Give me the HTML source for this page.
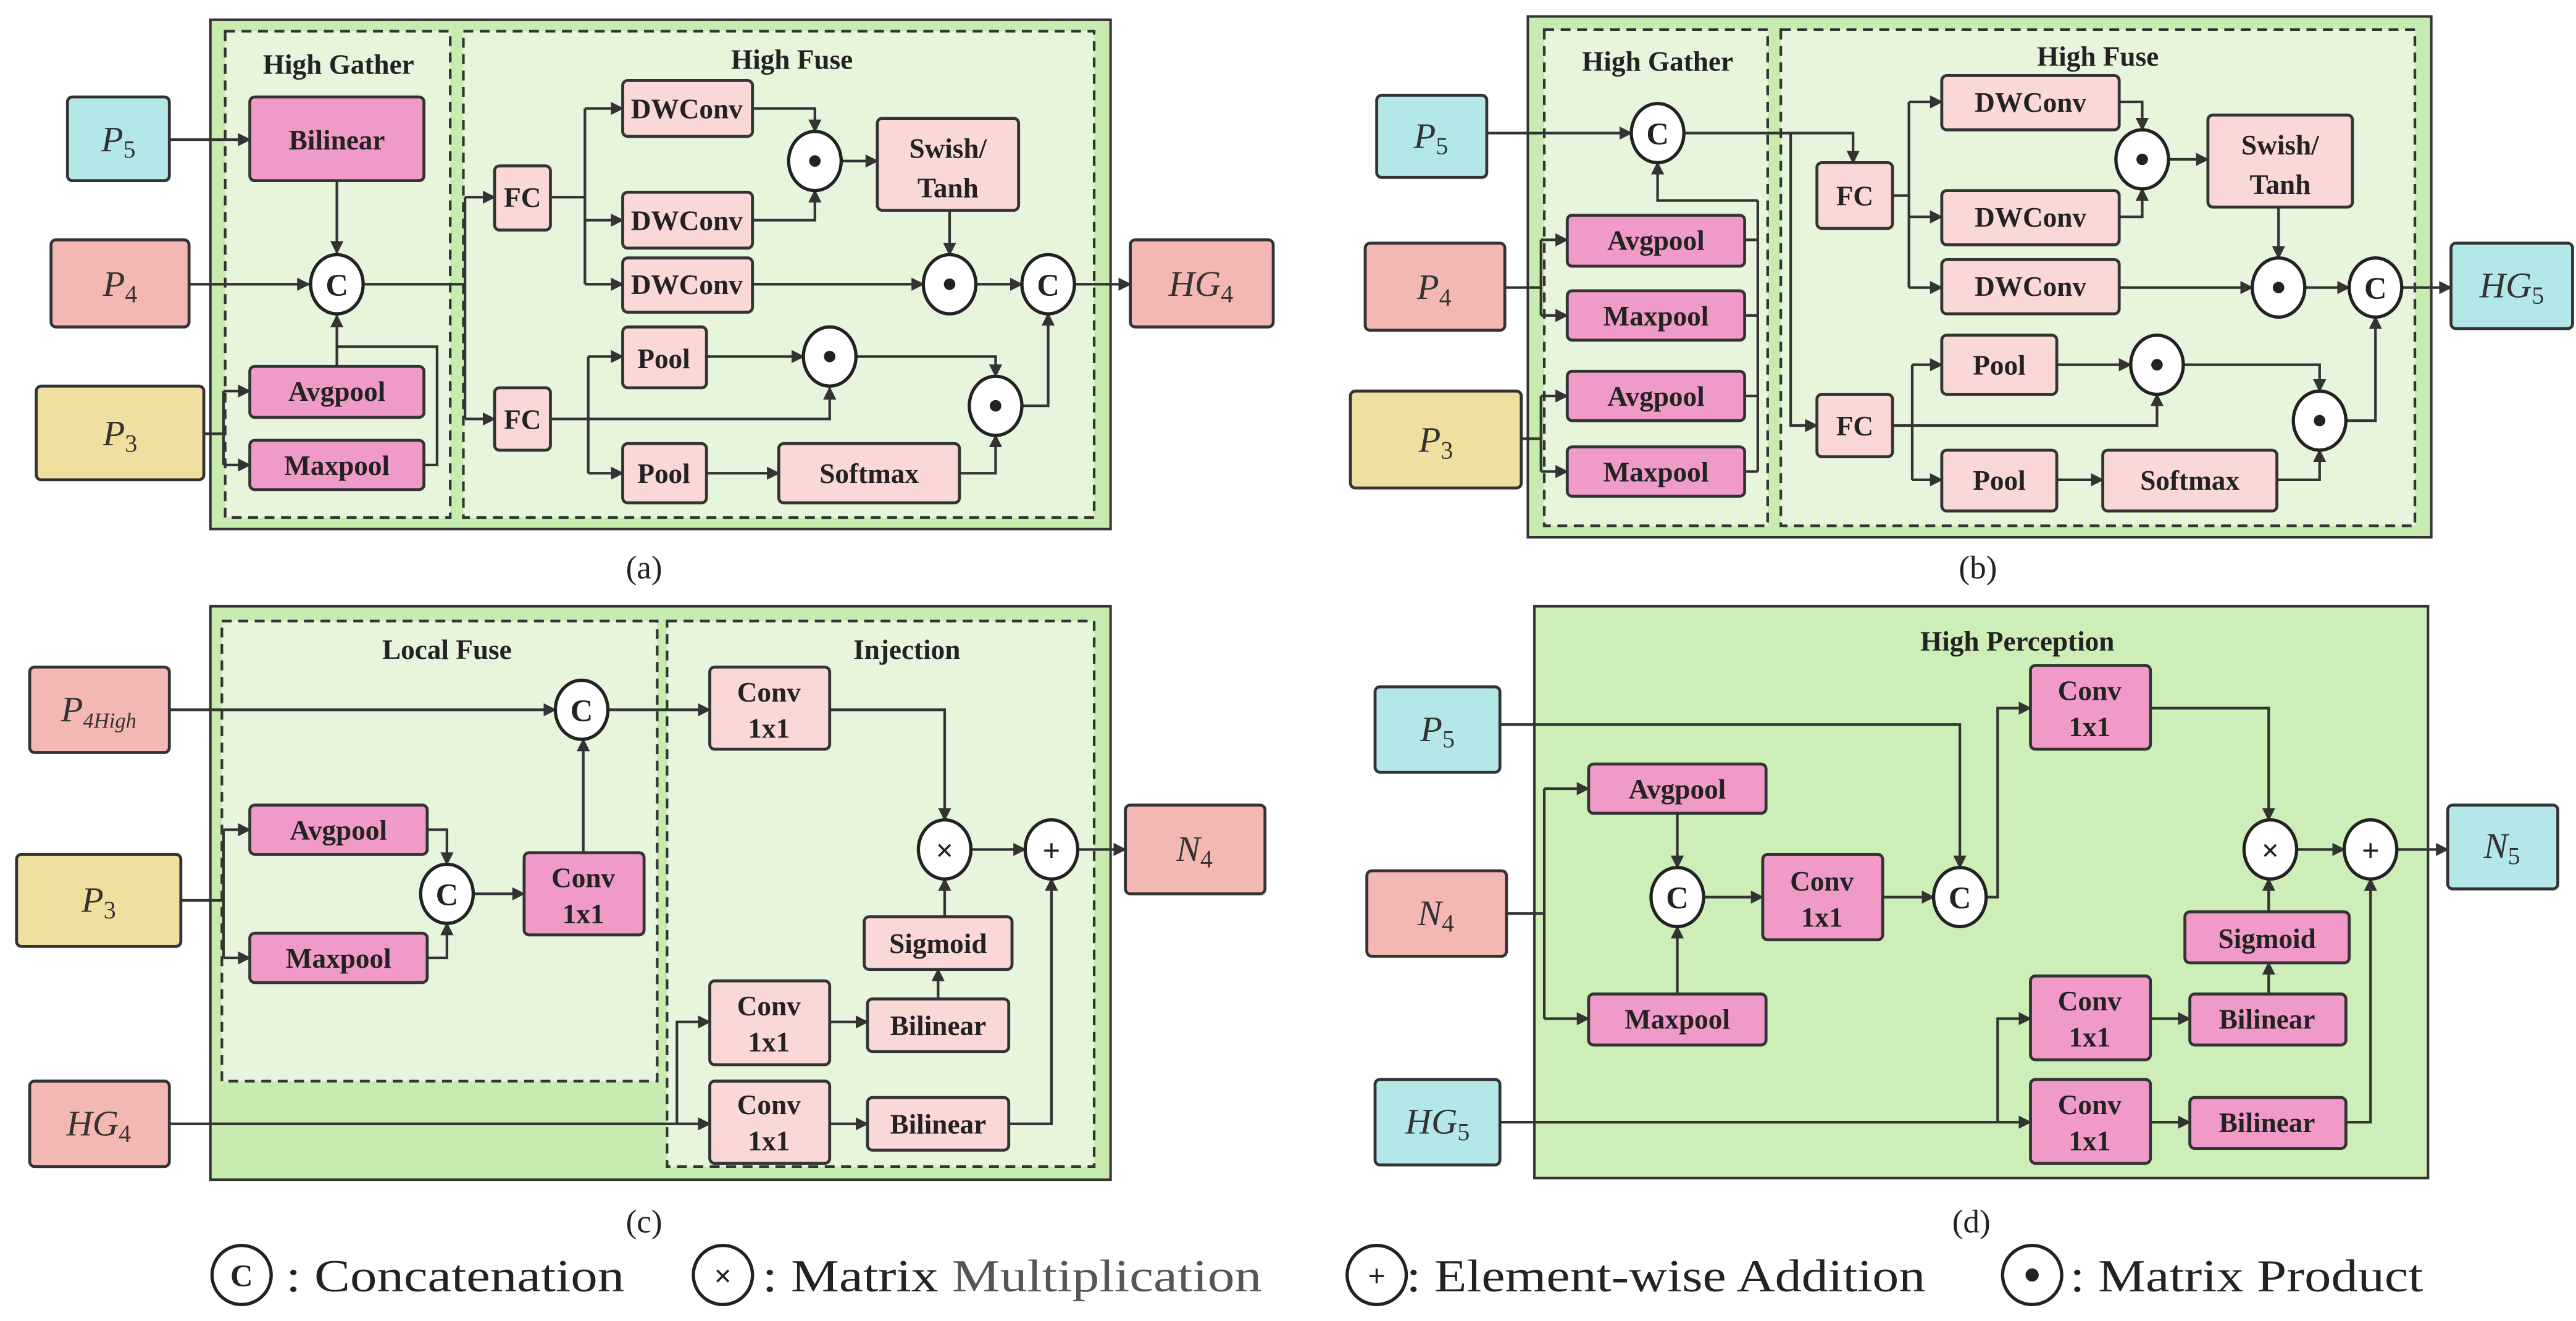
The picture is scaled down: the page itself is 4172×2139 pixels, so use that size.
<!DOCTYPE html>
<html><head><meta charset="utf-8"><style>
html,body{margin:0;padding:0;background:#fff;}
svg{display:block;}
text{font-family:"Liberation Serif",serif;}
.b{font-weight:bold;font-size:17px;fill:#222;}
.t{font-weight:bold;font-size:17px;fill:#222;}
.v{font-style:italic;font-size:22px;fill:#333;}
.l{stroke:#333;stroke-width:1.6;fill:none;}
.a{stroke:#333;stroke-width:1.6;fill:none;marker-end:url(#ar);}
.c{fill:#fff;stroke:#222;stroke-width:2;}
.cs{font-family:"Liberation Sans",sans-serif;font-weight:bold;font-size:19px;fill:#222;}
</style></head><body>
<svg width="4172" height="2139" viewBox="0 0 1568 804" xmlns="http://www.w3.org/2000/svg">
<defs>
<marker id="ar" viewBox="0 0 10 10" refX="9" refY="5" markerWidth="5" markerHeight="5" orient="auto"><path d="M0,0L10,5L0,10z" fill="#333"/></marker>
</defs>
<g stroke="#333" stroke-width="1.5">
<rect x="128" y="12" width="548" height="310" fill="#c8ecb0"/>
<rect x="930" y="10" width="550" height="317" fill="#c8ecb0"/>
<rect x="128" y="369" width="548" height="349" fill="#c8ecb0"/>
<rect x="934" y="369" width="544" height="348" fill="#cdeeb6"/>
</g>
<g stroke="#333" stroke-width="1.6" stroke-dasharray="6,4" fill="#e6f5dc">
<rect x="137" y="19" width="137" height="296"/>
<rect x="282" y="19" width="384" height="296"/>
<rect x="940" y="18" width="136" height="302"/>
<rect x="1084" y="18" width="386" height="302"/>
<rect x="135" y="378" width="265" height="280"/>
<rect x="406" y="378" width="260" height="332"/>
</g>
<text class="t" x="206" y="45" text-anchor="middle">High Gather</text>
<text class="t" x="482" y="42" text-anchor="middle">High Fuse</text>
<text class="t" x="1009" y="43" text-anchor="middle">High Gather</text>
<text class="t" x="1277" y="40" text-anchor="middle">High Fuse</text>
<text class="t" x="272" y="401" text-anchor="middle">Local Fuse</text>
<text class="t" x="552" y="401" text-anchor="middle">Injection</text>
<text class="t" x="1228" y="396" text-anchor="middle">High Perception</text>

<!-- connectors (a) -->
<path class="a" d="M103,85H152"/>
<path class="a" d="M205,110V154"/>
<path class="a" d="M115,173H188"/>
<path class="l" d="M124,264H136M136,238V283"/>
<path class="a" d="M136,238H152"/><path class="a" d="M136,283H152"/>
<path class="a" d="M205,223V192"/>
<path class="l" d="M258,283H266V211H205"/>
<path class="l" d="M222,173H283M283,120V255"/>
<path class="a" d="M283,120H301"/><path class="a" d="M283,255H301"/>
<path class="l" d="M335,120H356M356,66V173"/>
<path class="a" d="M356,66H379"/><path class="a" d="M356,134H379"/><path class="a" d="M356,173H379"/>
<path class="a" d="M458,66H496V80"/><path class="a" d="M458,134H496V116"/>
<path class="a" d="M512,98H534"/>
<path class="a" d="M578,128V155"/>
<path class="a" d="M458,173H562"/>
<path class="a" d="M594,173H622"/>
<path class="a" d="M654,173H688"/>
<path class="l" d="M335,255H358M358,217V288"/>
<path class="a" d="M358,217H379"/><path class="a" d="M358,288H379"/>
<path class="a" d="M358,255H505V236"/>
<path class="a" d="M430,217H489"/>
<path class="a" d="M521,217H606V229"/>
<path class="a" d="M430,288H474"/>
<path class="a" d="M584,288H606V265"/>
<path class="a" d="M622,247H638V191"/>

<!-- connectors (b) -->
<path class="a" d="M905,81H993"/>
<path class="a" d="M1025,81H1128V99"/>
<path class="l" d="M916,175H938M938,146V192"/>
<path class="a" d="M938,146H954"/><path class="a" d="M938,192H954"/>
<path class="l" d="M926,267H938M938,241V287"/>
<path class="a" d="M938,241H954"/><path class="a" d="M938,287H954"/>
<path class="l" d="M1062,146H1070M1062,192H1070M1062,241H1070M1062,287H1070M1070,122V287"/>
<path class="a" d="M1070,122H1009V99"/>
<path class="a" d="M1090,81V259H1106"/>
<path class="l" d="M1152,119H1162M1162,62V175"/>
<path class="a" d="M1162,62H1182"/><path class="a" d="M1162,132H1182"/><path class="a" d="M1162,175H1182"/>
<path class="a" d="M1290,62H1304V79"/><path class="a" d="M1290,132H1304V115"/>
<path class="a" d="M1320,97H1344"/>
<path class="a" d="M1387,126V157"/>
<path class="a" d="M1290,175H1371"/>
<path class="a" d="M1403,175H1430"/>
<path class="a" d="M1462,175H1492"/>
<path class="l" d="M1152,259H1164M1164,222V292"/>
<path class="a" d="M1164,222H1182"/><path class="a" d="M1164,292H1182"/>
<path class="a" d="M1164,259H1313V240"/>
<path class="a" d="M1252,222H1297"/>
<path class="a" d="M1329,222H1412V238"/>
<path class="a" d="M1252,292H1280"/>
<path class="a" d="M1386,292H1412V274"/>
<path class="a" d="M1428,256H1446V193"/>

<!-- connectors (c) -->
<path class="a" d="M103,432H338"/>
<path class="a" d="M370,432H432"/>
<path class="a" d="M505,432H575V499"/>
<path class="l" d="M110,548H136M136,505V583"/>
<path class="a" d="M136,505H152"/><path class="a" d="M136,583H152"/>
<path class="a" d="M260,505H272V526"/><path class="a" d="M260,583H272V562"/>
<path class="a" d="M288,544H319"/>
<path class="a" d="M355,519V450"/>
<path class="a" d="M103,684H432"/>
<path class="a" d="M412,684V622H432"/>
<path class="a" d="M505,622H528"/><path class="a" d="M505,684H528"/>
<path class="a" d="M571,608V590"/>
<path class="a" d="M575,558V535"/>
<path class="a" d="M614,684H640V535"/>
<path class="a" d="M591,517H624"/>
<path class="a" d="M656,517H685"/>

<!-- connectors (d) -->
<path class="a" d="M913,441H1193V528"/>
<path class="l" d="M917,556H940M940,480V620"/>
<path class="a" d="M940,480H967"/><path class="a" d="M940,620H967"/>
<path class="a" d="M1021,495V528"/>
<path class="a" d="M1021,605V564"/>
<path class="a" d="M1037,546H1073"/>
<path class="a" d="M1146,546H1177"/>
<path class="a" d="M1209,546H1216V431H1236"/>
<path class="a" d="M1309,431H1381V499"/>
<path class="a" d="M1398,517H1427"/>
<path class="a" d="M1459,517H1490"/>
<path class="a" d="M913,683H1236"/>
<path class="a" d="M1216,683V620H1236"/>
<path class="a" d="M1309,620H1333"/><path class="a" d="M1309,683H1333"/>
<path class="a" d="M1381,605V586"/>
<path class="a" d="M1381,555V535"/>
<path class="a" d="M1428,683H1443V535"/>

<!-- boxes -->
<g stroke="#333" stroke-width="1.8">
<rect x="41" y="59" width="62" height="51" rx="3" fill="#b4e8e8"/>
<rect x="31" y="146" width="84" height="53" rx="3" fill="#f4b8b4"/>
<rect x="22" y="235" width="102" height="57" rx="3" fill="#f0e0a0"/>
<rect x="688" y="146" width="87" height="53" rx="3" fill="#f4b8b4"/>
<rect x="838" y="58" width="67" height="50" rx="3" fill="#b4e8e8"/>
<rect x="831" y="148" width="85" height="53" rx="3" fill="#f4b8b4"/>
<rect x="822" y="238" width="104" height="59" rx="3" fill="#f0e0a0"/>
<rect x="1492" y="148" width="74" height="52" rx="3" fill="#b4e8e8"/>
<rect x="18" y="406" width="85" height="52" rx="3" fill="#f4b8b4"/>
<rect x="10" y="520" width="100" height="56" rx="3" fill="#f0e0a0"/>
<rect x="18" y="658" width="85" height="52" rx="3" fill="#f4b8b4"/>
<rect x="685" y="490" width="85" height="54" rx="3" fill="#f4b8b4"/>
<rect x="837" y="418" width="76" height="52" rx="3" fill="#b4e8e8"/>
<rect x="832" y="530" width="85" height="52" rx="3" fill="#f4b8b4"/>
<rect x="837" y="657" width="76" height="52" rx="3" fill="#b4e8e8"/>
<rect x="1490" y="490" width="67" height="51" rx="3" fill="#b4e8e8"/>
</g>
<g stroke="#333" stroke-width="1.8" fill="#f09ac8">
<rect x="152" y="59" width="106" height="51" rx="3"/>
<rect x="152" y="223" width="106" height="31" rx="3"/>
<rect x="152" y="268" width="106" height="30" rx="3"/>
<rect x="954" y="131" width="108" height="31" rx="3"/>
<rect x="954" y="177" width="108" height="30" rx="3"/>
<rect x="954" y="226" width="108" height="30" rx="3"/>
<rect x="954" y="272" width="108" height="30" rx="3"/>
<rect x="152" y="490" width="108" height="30" rx="3"/>
<rect x="152" y="568" width="108" height="30" rx="3"/>
<rect x="319" y="519" width="73" height="50" rx="3"/>
<rect x="967" y="465" width="108" height="30" rx="3"/>
<rect x="967" y="605" width="108" height="31" rx="3"/>
<rect x="1073" y="520" width="73" height="52" rx="3"/>
<rect x="1236" y="405" width="73" height="51" rx="3"/>
<rect x="1330" y="555" width="100" height="31" rx="3"/>
<rect x="1236" y="594" width="73" height="51" rx="3"/>
<rect x="1333" y="605" width="95" height="31" rx="3"/>
<rect x="1236" y="657" width="73" height="51" rx="3"/>
<rect x="1333" y="668" width="95" height="31" rx="3"/>
</g>
<g stroke="#333" stroke-width="1.8" fill="#f9d8d6">
<rect x="301" y="101" width="34" height="39" rx="3"/>
<rect x="301" y="236" width="34" height="38" rx="3"/>
<rect x="379" y="49" width="79" height="34" rx="3"/>
<rect x="379" y="117" width="79" height="34" rx="3"/>
<rect x="379" y="157" width="79" height="33" rx="3"/>
<rect x="534" y="72" width="86" height="56" rx="3"/>
<rect x="379" y="199" width="51" height="37" rx="3"/>
<rect x="379" y="270" width="51" height="36" rx="3"/>
<rect x="474" y="270" width="110" height="36" rx="3"/>
<rect x="1106" y="99" width="46" height="40" rx="3"/>
<rect x="1106" y="240" width="46" height="38" rx="3"/>
<rect x="1182" y="46" width="108" height="33" rx="3"/>
<rect x="1182" y="116" width="108" height="33" rx="3"/>
<rect x="1182" y="158" width="108" height="33" rx="3"/>
<rect x="1344" y="70" width="88" height="56" rx="3"/>
<rect x="1182" y="204" width="70" height="36" rx="3"/>
<rect x="1182" y="274" width="70" height="37" rx="3"/>
<rect x="1280" y="274" width="106" height="37" rx="3"/>
<rect x="432" y="406" width="73" height="50" rx="3"/>
<rect x="526" y="558" width="90" height="32" rx="3"/>
<rect x="432" y="597" width="73" height="51" rx="3"/>
<rect x="528" y="608" width="86" height="32" rx="3"/>
<rect x="432" y="658" width="73" height="50" rx="3"/>
<rect x="528" y="668" width="86" height="32" rx="3"/>
</g>

<!-- circles -->
<g>
<ellipse class="c" cx="205" cy="173" rx="16" ry="18"/>
<ellipse class="c" cx="496" cy="98" rx="16" ry="18"/>
<ellipse class="c" cx="578" cy="173" rx="16" ry="18"/>
<ellipse class="c" cx="638" cy="173" rx="16" ry="18"/>
<ellipse class="c" cx="505" cy="217" rx="16" ry="18"/>
<ellipse class="c" cx="606" cy="247" rx="16" ry="18"/>
<ellipse class="c" cx="1009" cy="81" rx="16" ry="18"/>
<ellipse class="c" cx="1304" cy="97" rx="16" ry="18"/>
<ellipse class="c" cx="1387" cy="175" rx="16" ry="18"/>
<ellipse class="c" cx="1446" cy="175" rx="16" ry="18"/>
<ellipse class="c" cx="1313" cy="222" rx="16" ry="18"/>
<ellipse class="c" cx="1412" cy="256" rx="16" ry="18"/>
<ellipse class="c" cx="354" cy="432" rx="16" ry="18"/>
<ellipse class="c" cx="272" cy="544" rx="16" ry="18"/>
<ellipse class="c" cx="575" cy="517" rx="16" ry="18"/>
<ellipse class="c" cx="640" cy="517" rx="16" ry="18"/>
<ellipse class="c" cx="1021" cy="546" rx="16" ry="18"/>
<ellipse class="c" cx="1193" cy="546" rx="16" ry="18"/>
<ellipse class="c" cx="1382" cy="517" rx="16" ry="18"/>
<ellipse class="c" cx="1443" cy="517" rx="16" ry="18"/>
<ellipse class="c" cx="147" cy="776" rx="18" ry="18"/>
<ellipse class="c" cx="440" cy="776" rx="18" ry="18"/>
<ellipse class="c" cx="838" cy="776" rx="18" ry="18"/>
<ellipse class="c" cx="1237" cy="776" rx="18" ry="18"/>
</g>
<g class="cs" text-anchor="middle">
<text x="205" y="180">C</text><text x="638" y="180">C</text>
<text x="1009" y="88">C</text><text x="1446" y="182">C</text>
<text x="354" y="439">C</text><text x="272" y="551">C</text>
<text x="1021" y="553">C</text><text x="1193" y="553">C</text>
<text x="575" y="524">×</text><text x="640" y="524">+</text>
<text x="1382" y="524">×</text><text x="1443" y="524">+</text>
<text x="147" y="783">C</text><text x="440" y="783">×</text><text x="838" y="783">+</text>
</g>
<g fill="#222">
<circle cx="496" cy="98" r="3.5"/><circle cx="578" cy="173" r="3.5"/>
<circle cx="505" cy="217" r="3.5"/><circle cx="606" cy="247" r="3.5"/>
<circle cx="1304" cy="97" r="3.5"/><circle cx="1387" cy="175" r="3.5"/>
<circle cx="1313" cy="222" r="3.5"/><circle cx="1412" cy="256" r="3.5"/>
<circle cx="1237" cy="776" r="4"/>
</g>

<!-- box labels -->
<g class="b" text-anchor="middle">
<text x="205" y="91">Bilinear</text>
<text x="205" y="244">Avgpool</text>
<text x="205" y="289">Maxpool</text>
<text x="318" y="126">FC</text>
<text x="318" y="261">FC</text>
<text x="418" y="72">DWConv</text>
<text x="418" y="140">DWConv</text>
<text x="418" y="179">DWConv</text>
<text x="577" y="96">Swish/</text>
<text x="577" y="120">Tanh</text>
<text x="404" y="224">Pool</text>
<text x="404" y="294">Pool</text>
<text x="529" y="294">Softmax</text>

<text x="1008" y="152">Avgpool</text>
<text x="1008" y="198">Maxpool</text>
<text x="1008" y="247">Avgpool</text>
<text x="1008" y="293">Maxpool</text>
<text x="1129" y="125">FC</text>
<text x="1129" y="265">FC</text>
<text x="1236" y="68">DWConv</text>
<text x="1236" y="138">DWConv</text>
<text x="1236" y="180">DWConv</text>
<text x="1388" y="94">Swish/</text>
<text x="1388" y="118">Tanh</text>
<text x="1217" y="228">Pool</text>
<text x="1217" y="298">Pool</text>
<text x="1333" y="298">Softmax</text>

<text x="468" y="427">Conv</text><text x="468" y="449">1x1</text>
<text x="206" y="511">Avgpool</text>
<text x="206" y="589">Maxpool</text>
<text x="355" y="540">Conv</text><text x="355" y="562">1x1</text>
<text x="571" y="580">Sigmoid</text>
<text x="468" y="618">Conv</text><text x="468" y="640">1x1</text>
<text x="571" y="630">Bilinear</text>
<text x="468" y="678">Conv</text><text x="468" y="700">1x1</text>
<text x="571" y="690">Bilinear</text>

<text x="1021" y="486">Avgpool</text>
<text x="1021" y="626">Maxpool</text>
<text x="1109" y="542">Conv</text><text x="1109" y="564">1x1</text>
<text x="1272" y="426">Conv</text><text x="1272" y="448">1x1</text>
<text x="1380" y="577">Sigmoid</text>
<text x="1272" y="615">Conv</text><text x="1272" y="637">1x1</text>
<text x="1380" y="626">Bilinear</text>
<text x="1272" y="678">Conv</text><text x="1272" y="700">1x1</text>
<text x="1380" y="689">Bilinear</text>
</g>

<!-- variable labels -->
<g class="v" text-anchor="middle">
<text x="72" y="92">P<tspan font-size="15" font-style="normal" dy="4">5</tspan></text>
<text x="73" y="180">P<tspan font-size="15" font-style="normal" dy="4">4</tspan></text>
<text x="73" y="271">P<tspan font-size="15" font-style="normal" dy="4">3</tspan></text>
<text x="731" y="180">HG<tspan font-size="15" font-style="normal" dy="4">4</tspan></text>
<text x="871" y="90">P<tspan font-size="15" font-style="normal" dy="4">5</tspan></text>
<text x="873" y="182">P<tspan font-size="15" font-style="normal" dy="4">4</tspan></text>
<text x="874" y="275">P<tspan font-size="15" font-style="normal" dy="4">3</tspan></text>
<text x="1529" y="181">HG<tspan font-size="15" font-style="normal" dy="4">5</tspan></text>
<text x="60" y="439">P<tspan font-size="13" dy="4">4High</tspan></text>
<text x="60" y="555">P<tspan font-size="15" font-style="normal" dy="4">3</tspan></text>
<text x="60" y="691">HG<tspan font-size="15" font-style="normal" dy="4">4</tspan></text>
<text x="727" y="524">N<tspan font-size="15" font-style="normal" dy="4">4</tspan></text>
<text x="875" y="451">P<tspan font-size="15" font-style="normal" dy="4">5</tspan></text>
<text x="874" y="563">N<tspan font-size="15" font-style="normal" dy="4">4</tspan></text>
<text x="875" y="690">HG<tspan font-size="15" font-style="normal" dy="4">5</tspan></text>
<text x="1523" y="522">N<tspan font-size="15" font-style="normal" dy="4">5</tspan></text>
</g>

<g font-family="Liberation Serif, serif" font-size="20" fill="#222" text-anchor="middle">
<text x="392" y="352">(a)</text>
<text x="1204" y="352">(b)</text>
<text x="392" y="750">(c)</text>
<text x="1200" y="750">(d)</text>
</g>
<g font-family="Liberation Serif, serif" font-size="28" fill="#222">
<text x="174" y="786" textLength="206" lengthAdjust="spacingAndGlyphs">: Concatenation</text>
<text x="464" y="786" textLength="304" lengthAdjust="spacingAndGlyphs">: Matrix <tspan fill="#555">Multiplication</tspan></text>
<text x="856" y="786" textLength="316" lengthAdjust="spacingAndGlyphs">: Element-wise Addition</text>
<text x="1260" y="786" textLength="215" lengthAdjust="spacingAndGlyphs">: Matrix Product</text>
</g>
</svg>
</body></html>
